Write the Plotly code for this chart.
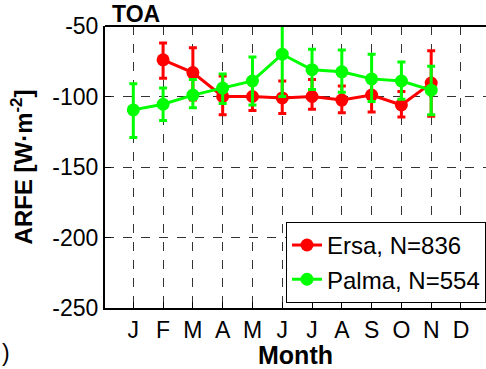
import plotly.graph_objects as go

# Monthly aerosol radiative forcing efficiency at top of atmosphere
months = list(range(1, 13))
month_labels = ["J", "F", "M", "A", "M", "J", "J", "A", "S", "O", "N", "D"]
y_ticks = [-250, -200, -150, -100, -50]
y_tick_labels = ["-250", "-200", "-150", "-100", "-50"]

ersa_months = [2, 3, 4, 5, 6, 7, 8, 9, 10, 11]
ersa_mean = [-74, -83, -100, -100, -101, -100, -102.5, -99, -106, -90.5]
ersa_err_up = [12, 17.5, 14.5, 10, 12, 12, 10, 11, 9.5, 23]
ersa_err_down = [13, 19.5, 13, 10, 11, 9, 9, 12, 8.5, 23.5]

palma_months = [1, 2, 3, 4, 5, 6, 7, 8, 9, 10, 11]
palma_mean = [-109.5, -105.5, -99, -94, -89, -70, -81, -82.5, -87.5, -89, -95.5]
palma_err_up = [18.5, 11.5, 11, 10, 17, 30, 14.5, 15.5, 17.5, 13.5, 17]
palma_err_down = [19.5, 11.5, 9, 11, 17, 30, 14, 14.5, 16, 13, 17.5]

FONT = "Liberation Sans, Arial, sans-serif"
RED = "#ff0000"
GREEN = "#00ff00"

fig = go.Figure()

fig.add_trace(go.Scatter(
    x=ersa_months, y=ersa_mean, mode="lines+markers",
    name="Ersa, N=836",
    line=dict(color=RED, width=3),
    marker=dict(color=RED, size=13),
    error_y=dict(type="data", symmetric=False, array=ersa_err_up,
                 arrayminus=ersa_err_down, color=RED,
                 thickness=3, width=4),
))
fig.add_trace(go.Scatter(
    x=palma_months, y=palma_mean, mode="lines+markers",
    name="Palma, N=554",
    line=dict(color=GREEN, width=3),
    marker=dict(color=GREEN, size=13),
    error_y=dict(type="data", symmetric=False, array=palma_err_up,
                 arrayminus=palma_err_down, color=GREEN,
                 thickness=3, width=4),
))

fig.update_layout(
    width=486, height=369,
    margin=dict(l=105, r=0, t=26, b=61),
    paper_bgcolor="white", plot_bgcolor="white",
    font=dict(family=FONT, size=23, color="black"),
    showlegend=True,
    legend=dict(
        x=1, xanchor="right", y=0.018, yanchor="bottom",
        bgcolor="white", bordercolor="black", borderwidth=1,
        font=dict(size=24), itemwidth=30, tracegroupgap=0,
    ),
)

fig.update_xaxes(
    range=[0.05, 12.84],
    tickmode="array", tickvals=months, ticktext=month_labels,
    tickfont=dict(size=23),
    showline=True, linecolor="black", linewidth=2,
    ticks="inside", ticklen=6, tickcolor="black",
    showgrid=True, gridcolor="#333333", griddash="dash", gridwidth=1,
    zeroline=False,
    title=dict(text="<b>Month</b>", font=dict(size=25), standoff=0),
)
fig.update_yaxes(
    range=[-250, -50],
    tickmode="array", tickvals=y_ticks, ticktext=y_tick_labels,
    tickfont=dict(size=23),
    showline=True, linecolor="black", linewidth=2,
    ticks="inside", ticklen=6, tickcolor="black",
    showgrid=True, gridcolor="#333333", griddash="dash", gridwidth=1,
    zeroline=False,
    title=dict(text="<b>ARFE [W·m<sup>-2</sup>]</b>", font=dict(size=24), standoff=13),
)

# top frame line
fig.add_shape(type="line", xref="paper", yref="paper", x0=0, x1=1, y0=1, y1=1,
              line=dict(color="black", width=2))

fig.add_annotation(text="<b>TOA</b>", xref="paper", yref="paper",
                   x=0.012, y=1, xanchor="left", yanchor="bottom",
                   showarrow=False, font=dict(size=23), yshift=-3)
fig.add_annotation(text=")", xref="paper", yref="paper",
                   x=-105 / 381, y=-0.16, xanchor="left", yanchor="middle",
                   showarrow=False, font=dict(size=23))

fig.write_html("out.html")
